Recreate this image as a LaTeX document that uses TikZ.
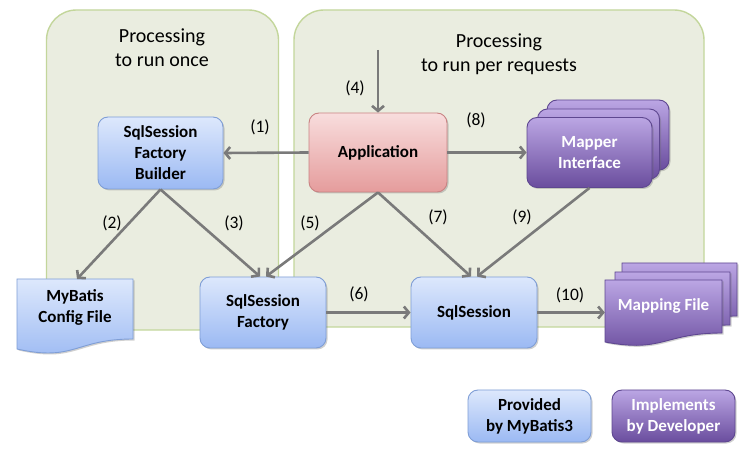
\documentclass[tikz,border=0pt]{standalone}
\usepackage{fontspec}
\setmainfont{Carlito}
\usetikzlibrary{arrows.meta,shadows}
\definecolor{panelfill}{HTML}{EAEDE0}
\definecolor{panelline}{HTML}{C3D69B}
\definecolor{bluetop}{HTML}{DDE8FC}
\definecolor{bluebot}{HTML}{9BB9F3}
\definecolor{blueline}{HTML}{7F9ED6}
\definecolor{redtop}{HTML}{F8DDDD}
\definecolor{redbot}{HTML}{E59C9C}
\definecolor{redline}{HTML}{C98383}
\definecolor{purtop}{HTML}{BBA6E4}
\definecolor{purbot}{HTML}{6A4D9E}
\definecolor{purline}{HTML}{5E4790}
\definecolor{arrowgray}{HTML}{7A7A7A}
\begin{document}
\begin{tikzpicture}[x=1pt,y=-1pt,
  panel/.style={draw=panelline,line width=1.4pt,fill=panelfill,rounded corners=30pt},
  shad/.style={drop shadow={opacity=0.3,shadow xshift=1.5pt,shadow yshift=-1.5pt,fill=black!60}},
  boxfont/.style={font=\bfseries\fontsize{17}{21}\selectfont,align=center,inner sep=0pt},
  bluebox/.style={draw=blueline,line width=0.9pt,top color=bluetop,bottom color=bluebot,rounded corners=10pt,shad,boxfont},
  redbox/.style={draw=redline,line width=0.9pt,top color=redtop,bottom color=redbot,rounded corners=10pt,shad,boxfont},
  purbox/.style={draw=purline,line width=0.9pt,top color=purtop,bottom color=purbot,rounded corners=10pt,shad,boxfont,text=white},
  bluedoc/.style={draw=blueline,line width=0.9pt,top color=bluetop,bottom color=bluebot,shad},
  purdoc/.style={draw=purline,line width=0.9pt,top color=purtop,bottom color=purbot,shad},
  doctext/.style={boxfont},
  title/.style={font=\fontsize{20}{24}\selectfont,align=center},
  lbl/.style={font=\fontsize{17.5}{20}\selectfont},
  arr/.style={draw=arrowgray,line width=2.6pt,-{Straight Barb[length=5pt,width=12pt]}}
]
\useasboundingbox (0,0) rectangle (750,454);
\fill[white] (0,0) rectangle (750,454);

% panels
\path[panel] (46.5,10) rectangle (278.5,330);
\path[panel] (294,10) rectangle (704,327);
\node[title] (t1) at (162,48) {Processing\\to run once};
\node[title] (t2) at (499,54) {Processing\\to run per requests};

% Builder
\node[bluebox,minimum width=125pt,minimum height=72pt] (builder) at (160.5,153) {SqlSession\\Factory\\Builder};
% Application
\node[redbox,minimum width=138pt,minimum height=79pt] (app) at (378,152.5) {Application};
% Mapper interface (stack)
\node[purbox,minimum width=122pt,minimum height=70pt] (mapperb) at (608,135) {};
\node[purbox,minimum width=122pt,minimum height=70pt] (mapperm) at (598.5,144) {};
\node[purbox,minimum width=125pt,minimum height=70pt] (mapper) at (589.5,152.5) {Mapper\\Interface};

% Config file (document shape)
\path[bluedoc] (17,279) -- (133,279) -- (133,339) .. controls (75,339) and (75,362) .. (17,349) -- cycle;
\node[doctext,minimum width=116pt,minimum height=56pt,anchor=north] (config) at (75,279) {MyBatis\\Config File};

% SqlSession Factory / SqlSession
\node[bluebox,minimum width=126pt,minimum height=71pt] (factory) at (263,312.5) {SqlSession\\Factory};
\node[bluebox,minimum width=126pt,minimum height=71pt] (session) at (474,312.5) {SqlSession};

% Mapping file (stack of documents)
\path[purdoc] (622,263) -- (737,263) -- (737,316) .. controls (679.5,316) and (679.5,336) .. (622,325) -- cycle;
\path[purdoc] (615,272) -- (730,272) -- (730,325) .. controls (672.5,325) and (672.5,345) .. (615,334) -- cycle;
\path[purdoc] (605,280) -- (722,280) -- (722,333) .. controls (663.5,333) and (663.5,353) .. (605,342) -- cycle;
\node[doctext,text=white,minimum width=117pt,minimum height=52pt,anchor=north] (mapping) at (663.5,280) {Mapping File};

% Legend
\node[bluebox,minimum width=123pt,minimum height=52pt] (leg1) at (529.5,416) {Provided\\by MyBatis3};
\node[purbox,minimum width=123pt,minimum height=52pt] (leg2) at (673.5,416) {Implements\\by Developer};

% connectors
\coordinate (start4) at (378,50);
\draw[arr] (start4) -- (app.north);
\draw[arr] (app.west) -- (builder.east);
\draw[arr] (app.east) -- (mapper.west);
\draw[arr] (builder.south) -- ([xshift=2pt]config.north);
\draw[arr] (builder.south) -- ([xshift=-3pt]factory.north);
\draw[arr] (app.south) -- ([xshift=3pt]factory.north);
\draw[arr] (app.south) -- ([xshift=-3pt]session.north);
\draw[arr] (mapper.south) -- ([xshift=3pt]session.north);
\draw[arr] (factory.east) -- (session.west);
\draw[arr] (session.east) -- (session.east -| mapping.west);

% labels
\node[lbl] (l1) at (260,127) {(1)};
\node[lbl] (l2) at (112,223) {(2)};
\node[lbl] (l3) at (234,223) {(3)};
\node[lbl] (l4) at (355,88) {(4)};
\node[lbl] (l5) at (310,223) {(5)};
\node[lbl] (l6) at (359,294) {(6)};
\node[lbl] (l7) at (438,217) {(7)};
\node[lbl] (l8) at (476,120) {(8)};
\node[lbl] (l9) at (522,217) {(9)};
\node[lbl] (l10) at (570,295) {(10)};
\end{tikzpicture}
\end{document}
